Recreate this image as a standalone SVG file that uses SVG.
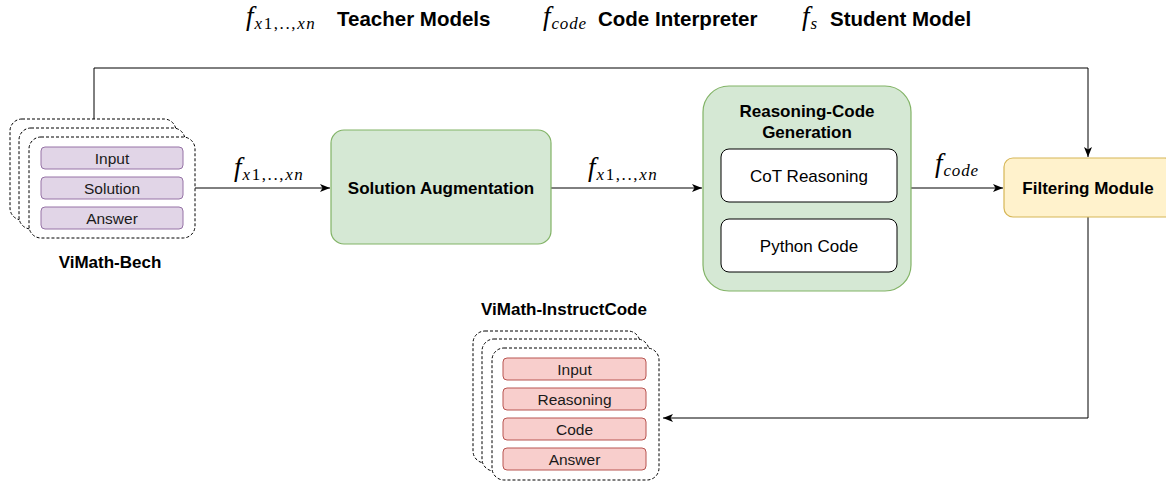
<svg xmlns="http://www.w3.org/2000/svg" width="1166" height="483" viewBox="0 0 1166 483">
  <defs>
    <marker id="arrow" viewBox="0 0 10 8" refX="10" refY="4" markerWidth="10" markerHeight="8" markerUnits="userSpaceOnUse" orient="auto">
      <path d="M0,0 L10,4 L0,8 L2.5,4 z" fill="#000"/>
    </marker>
    <style>
      .bg { fill: #ffffff; }
      .stack { fill: #ffffff; stroke: #000; stroke-width: 1; stroke-dasharray: 3 2; }
      .purple { fill: #e1d5e7; stroke: #9673a6; stroke-width: 1; }
      .pink { fill: #f8cecc; stroke: #b85450; stroke-width: 1; }
      .green { fill: #d5e8d4; stroke: #82b366; stroke-width: 1.2; }
      .yellow { fill: #fff2cc; stroke: #d6b656; stroke-width: 1.2; }
      .white { fill: #ffffff; stroke: #000; stroke-width: 1; }
      .edge { fill: none; stroke: #000; stroke-width: 1; }
      .item { font-family: "Liberation Sans", Arial, sans-serif; font-size: 15.5px; fill: #1a1a1a; text-anchor: middle; }
      .label { font-family: "Liberation Sans", Arial, sans-serif; font-size: 17px; font-weight: bold; fill: #000; text-anchor: middle; }
      .plain { font-family: "Liberation Sans", Arial, sans-serif; font-size: 17px; fill: #000; text-anchor: middle; }
      .legend { font-family: "Liberation Sans", Arial, sans-serif; font-size: 20.5px; font-weight: bold; fill: #000; }
      .math { font-family: "Liberation Serif", "Times New Roman", serif; fill: #000; }
      .mf { font-style: italic; font-size: 27px; }
      .ms { font-size: 17px; letter-spacing: 1.6px; }
      .mi { font-style: italic; }
    </style>
  </defs>

  <rect class="bg" x="0" y="0" width="1166" height="483"/>

  <!-- legend -->
  <g id="legend">
    <text class="math" x="246" y="25"><tspan class="mf">f</tspan><tspan class="ms" dx="1" dy="4"><tspan class="mi">x</tspan>1,..,<tspan class="mi">xn</tspan></tspan></text>
    <text class="legend" x="337" y="26">Teacher Models</text>
    <text class="math" x="543" y="25"><tspan class="mf">f</tspan><tspan class="ms mi" dx="1" dy="4" style="letter-spacing:0.8px">code</tspan></text>
    <text class="legend" x="598" y="26">Code Interpreter</text>
    <text class="math" x="802" y="25"><tspan class="mf">f</tspan><tspan class="ms mi" dx="1" dy="4">s</tspan></text>
    <text class="legend" x="830" y="26">Student Model</text>
  </g>

  <!-- connectors -->
  <g id="connectors">
    <path class="edge" d="M94,119 L94,68 L1088,68 L1088,157" marker-end="url(#arrow)"/>
    <path class="edge" d="M195,188 L330,188" marker-end="url(#arrow)"/>
    <path class="edge" d="M551,188 L702,188" marker-end="url(#arrow)"/>
    <path class="edge" d="M911,188 L1003,188" marker-end="url(#arrow)"/>
    <path class="edge" d="M1088,217 L1088,418 L663,418" marker-end="url(#arrow)"/>
    <text class="math" x="234" y="176"><tspan class="mf">f</tspan><tspan class="ms" dx="1" dy="4"><tspan class="mi">x</tspan>1,..,<tspan class="mi">xn</tspan></tspan></text>
    <text class="math" x="588" y="176"><tspan class="mf">f</tspan><tspan class="ms" dx="1" dy="4"><tspan class="mi">x</tspan>1,..,<tspan class="mi">xn</tspan></tspan></text>
    <text class="math" x="935" y="172"><tspan class="mf">f</tspan><tspan class="ms mi" dx="1" dy="4" style="letter-spacing:0.8px">code</tspan></text>
  </g>

  <!-- ViMath-Bech dataset -->
  <g id="vimath-bech">
    <rect class="stack" x="10" y="119" width="166" height="101" rx="12"/>
    <rect class="stack" x="19" y="128" width="166" height="101" rx="12"/>
    <rect class="stack" x="29" y="137" width="166" height="101" rx="12"/>
    <rect class="purple" x="41" y="147" width="142" height="22" rx="4"/>
    <text class="item" x="112" y="163.5">Input</text>
    <rect class="purple" x="41" y="177" width="142" height="22" rx="4"/>
    <text class="item" x="112" y="193.5">Solution</text>
    <rect class="purple" x="41" y="207" width="142" height="22" rx="4"/>
    <text class="item" x="112" y="223.5">Answer</text>
    <text class="label" x="110" y="268">ViMath-Bech</text>
  </g>

  <!-- Solution Augmentation -->
  <g id="solution-augmentation">
    <rect class="green" x="331" y="130" width="220" height="114" rx="13"/>
    <text class="label" x="441" y="194">Solution Augmentation</text>
  </g>

  <!-- Reasoning-Code Generation -->
  <g id="reasoning-code-generation">
    <rect class="green" x="703" y="86" width="208" height="205" rx="26"/>
    <text class="label" x="807" y="117">Reasoning-Code</text>
    <text class="label" x="807" y="138">Generation</text>
    <rect class="white" x="721" y="149" width="176" height="53" rx="8"/>
    <text class="plain" x="809" y="181.5">CoT Reasoning</text>
    <rect class="white" x="721" y="219" width="176" height="53" rx="8"/>
    <text class="plain" x="809" y="251.5">Python Code</text>
  </g>

  <!-- Filtering Module -->
  <g id="filtering-module">
    <rect class="yellow" x="1004" y="158" width="170" height="59" rx="9"/>
    <text class="label" x="1088" y="193.5">Filtering Module</text>
  </g>

  <!-- ViMath-InstructCode dataset -->
  <g id="vimath-instructcode">
    <text class="label" x="564" y="315">ViMath-InstructCode</text>
    <rect class="stack" x="473" y="331" width="167" height="132" rx="12"/>
    <rect class="stack" x="482" y="339" width="167" height="132" rx="12"/>
    <rect class="stack" x="492" y="348" width="167" height="132" rx="12"/>
    <rect class="pink" x="503" y="358" width="143" height="22" rx="4"/>
    <text class="item" x="574.5" y="374.5">Input</text>
    <rect class="pink" x="503" y="388" width="143" height="22" rx="4"/>
    <text class="item" x="574.5" y="404.5">Reasoning</text>
    <rect class="pink" x="503" y="418" width="143" height="22" rx="4"/>
    <text class="item" x="574.5" y="434.5">Code</text>
    <rect class="pink" x="503" y="448" width="143" height="22" rx="4"/>
    <text class="item" x="574.5" y="464.5">Answer</text>
  </g>
</svg>
